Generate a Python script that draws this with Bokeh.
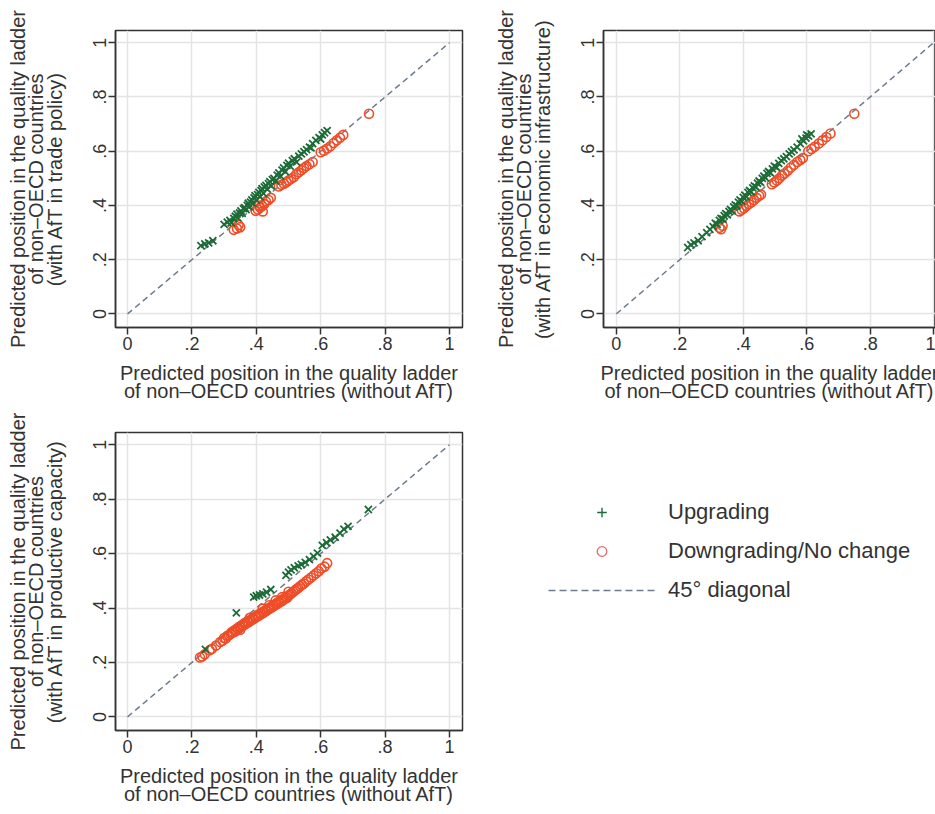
from bokeh.plotting import figure
from bokeh.layouts import row, column
from bokeh.models import FixedTicker, Legend, LegendItem
from bokeh.embed import file_html
from bokeh.resources import INLINE

# ---------------- data ----------------
ticks = [0, 0.2, 0.4, 0.6, 0.8, 1.0]
tick_labels = ["0", ".2", ".4", ".6", ".8", "1"]
diag_x = [0, 1]
diag_y = [0, 1]

x_title = "Predicted position in the quality ladder\nof non\u2013OECD countries (without AfT)"
y_title_base = "Predicted position in the quality ladder\nof non\u2013OECD countries\n"
y_suffix = ["(with AfT in trade policy)",
            "(with AfT in economic infrastructure)",
            "(with AfT in productive capacity)"]

legend_labels = ["Upgrading", "Downgrading/No change", "45\u00b0 diagonal"]

# Panel 1: trade policy
p1_up_x = [0.228, 0.240, 0.252, 0.265, 0.300, 0.310, 0.318, 0.322, 0.330, 0.335, 0.340, 0.342, 0.348, 0.352,
           0.356, 0.360, 0.364, 0.368, 0.372, 0.375, 0.378, 0.382, 0.386, 0.390, 0.393, 0.396, 0.400, 0.404,
           0.408, 0.412, 0.415, 0.418, 0.422, 0.425, 0.430, 0.434, 0.438, 0.442, 0.446, 0.450, 0.455, 0.460,
           0.465, 0.470, 0.475, 0.480, 0.485, 0.490, 0.495, 0.500, 0.505, 0.512, 0.518, 0.525, 0.532, 0.540,
           0.548, 0.556, 0.565, 0.575, 0.585, 0.595, 0.605, 0.612, 0.620, 0.600, 0.570]
p1_up_y = [0.252, 0.258, 0.262, 0.270, 0.330, 0.338, 0.345, 0.336, 0.352, 0.360, 0.368, 0.355, 0.372, 0.380,
           0.371, 0.388, 0.392, 0.385, 0.400, 0.408, 0.395, 0.412, 0.420, 0.408, 0.428, 0.436, 0.420, 0.440,
           0.448, 0.432, 0.455, 0.462, 0.445, 0.468, 0.474, 0.460, 0.480, 0.488, 0.472, 0.495, 0.500, 0.490,
           0.512, 0.520, 0.508, 0.530, 0.538, 0.525, 0.548, 0.556, 0.545, 0.565, 0.572, 0.560, 0.582, 0.590,
           0.598, 0.606, 0.615, 0.628, 0.640, 0.650, 0.660, 0.668, 0.676, 0.645, 0.612]
p1_dn_x = [0.330, 0.340, 0.350, 0.345, 0.398, 0.405, 0.412, 0.408, 0.418, 0.425, 0.430, 0.438, 0.445, 0.420,
           0.470, 0.478, 0.486, 0.494, 0.500, 0.508, 0.516, 0.524, 0.532, 0.540, 0.548, 0.556, 0.565, 0.575,
           0.600, 0.610, 0.620, 0.630, 0.640, 0.650, 0.660, 0.670, 0.750]
p1_dn_y = [0.310, 0.315, 0.320, 0.328, 0.380, 0.385, 0.392, 0.400, 0.398, 0.405, 0.415, 0.420, 0.428, 0.378,
           0.470, 0.476, 0.480, 0.486, 0.492, 0.498, 0.504, 0.515, 0.522, 0.530, 0.538, 0.545, 0.552, 0.560,
           0.596, 0.602, 0.610, 0.618, 0.630, 0.640, 0.650, 0.660, 0.738]

# Panel 2: economic infrastructure
p2_up_x = [0.225, 0.235, 0.245, 0.258, 0.270, 0.285, 0.295, 0.305, 0.312, 0.318, 0.325, 0.330, 0.336, 0.340,
           0.345, 0.350, 0.355, 0.360, 0.365, 0.370, 0.375, 0.380, 0.385, 0.390, 0.395, 0.400, 0.405, 0.410,
           0.415, 0.420, 0.425, 0.430, 0.435, 0.440, 0.445, 0.450, 0.455, 0.460, 0.465, 0.470, 0.475, 0.480,
           0.486, 0.492, 0.498, 0.505, 0.512, 0.520, 0.528, 0.536, 0.545, 0.552, 0.560, 0.570, 0.580, 0.590,
           0.598, 0.606, 0.614, 0.585, 0.600]
p2_up_y = [0.245, 0.255, 0.262, 0.270, 0.285, 0.300, 0.312, 0.322, 0.335, 0.330, 0.345, 0.352, 0.350, 0.362,
           0.370, 0.365, 0.378, 0.385, 0.380, 0.395, 0.402, 0.398, 0.412, 0.420, 0.415, 0.430, 0.438, 0.432,
           0.448, 0.455, 0.450, 0.465, 0.472, 0.468, 0.482, 0.490, 0.485, 0.500, 0.508, 0.502, 0.518, 0.525,
           0.520, 0.535, 0.545, 0.540, 0.555, 0.565, 0.572, 0.580, 0.590, 0.598, 0.605, 0.615, 0.628, 0.638,
           0.648, 0.656, 0.664, 0.645, 0.660]
p2_dn_x = [0.325, 0.335, 0.330, 0.388, 0.395, 0.402, 0.410, 0.418, 0.426, 0.434, 0.442, 0.450, 0.456,
           0.490, 0.498, 0.506, 0.514, 0.522, 0.530, 0.540, 0.550, 0.560, 0.570, 0.580, 0.588,
           0.605, 0.615, 0.625, 0.638, 0.650, 0.662, 0.675, 0.750]
p2_dn_y = [0.318, 0.325, 0.312, 0.378, 0.384, 0.390, 0.398, 0.405, 0.412, 0.420, 0.428, 0.436, 0.440,
           0.478, 0.485, 0.492, 0.500, 0.510, 0.518, 0.528, 0.540, 0.550, 0.560, 0.568, 0.575,
           0.600, 0.608, 0.616, 0.628, 0.640, 0.652, 0.665, 0.738]

# Panel 3: productive capacity
p3_up_x = [0.242, 0.338, 0.392, 0.400, 0.410, 0.420, 0.432, 0.445, 0.492, 0.500, 0.508, 0.518, 0.530,
           0.540, 0.552, 0.565, 0.578, 0.590, 0.605, 0.618, 0.630, 0.645, 0.660, 0.672, 0.685, 0.748]
p3_up_y = [0.248, 0.382, 0.440, 0.445, 0.448, 0.452, 0.458, 0.468, 0.520, 0.532, 0.540, 0.548, 0.555,
           0.560, 0.568, 0.578, 0.590, 0.602, 0.630, 0.640, 0.650, 0.660, 0.675, 0.690, 0.700, 0.762]
p3_dn_x = [0.225, 0.232, 0.240, 0.255, 0.262, 0.275, 0.288, 0.295, 0.300, 0.305, 0.310, 0.315, 0.320,
           0.324, 0.328, 0.332, 0.336, 0.340, 0.344, 0.348, 0.352, 0.356, 0.360, 0.364, 0.368, 0.372,
           0.376, 0.380, 0.384, 0.388, 0.392, 0.396, 0.400, 0.404, 0.408, 0.412, 0.416, 0.420, 0.424,
           0.428, 0.432, 0.436, 0.440, 0.444, 0.448, 0.452, 0.456, 0.460, 0.464, 0.468, 0.472, 0.476,
           0.480, 0.484, 0.488, 0.492, 0.496, 0.500, 0.505, 0.510, 0.515, 0.520, 0.525, 0.530, 0.536,
           0.542, 0.548, 0.555, 0.562, 0.570, 0.578, 0.586, 0.594, 0.602, 0.612, 0.620, 0.380, 0.420,
           0.460, 0.500, 0.350, 0.440, 0.480]
p3_dn_y = [0.218, 0.222, 0.230, 0.245, 0.250, 0.262, 0.275, 0.280, 0.290, 0.288, 0.298, 0.300, 0.305,
           0.312, 0.310, 0.318, 0.315, 0.325, 0.322, 0.332, 0.330, 0.338, 0.336, 0.345, 0.342, 0.350,
           0.348, 0.356, 0.354, 0.362, 0.360, 0.368, 0.366, 0.374, 0.372, 0.380, 0.378, 0.386, 0.384,
           0.392, 0.390, 0.398, 0.396, 0.404, 0.402, 0.410, 0.408, 0.416, 0.414, 0.422, 0.420, 0.428,
           0.426, 0.434, 0.432, 0.440, 0.438, 0.446, 0.450, 0.455, 0.460, 0.464, 0.470, 0.474, 0.480,
           0.486, 0.490, 0.498, 0.505, 0.512, 0.520, 0.528, 0.535, 0.545, 0.552, 0.565, 0.364, 0.398,
           0.428, 0.460, 0.320, 0.410, 0.440]

# ---------------- style ----------------
FONT = "Liberation Sans"
TXT = "#333333"
GREEN = "#1d6b37"
RED = "#ee4d28"
DIAG = "#6d7c8c"
GRID = "#e4e4e4"
FRAME = "#333333"
YR = (-0.05, 1.045)


def panel(ux, uy, dx, dy, ytitle, width, height, xr, bl, br, bt, bb):
    p = figure(width=width, height=height, x_range=xr, y_range=YR,
               output_backend="svg", toolbar_location=None,
               min_border_left=bl, min_border_right=br, min_border_top=bt, min_border_bottom=bb,
               background_fill_color="white", border_fill_color="white")
    p.outline_line_color = FRAME
    p.outline_line_width = 1.5
    for ax in (p.xaxis[0], p.yaxis[0]):
        ax.ticker = FixedTicker(ticks=ticks)
        ax.major_label_overrides = {t: l for t, l in zip(ticks, tick_labels)}
        ax.minor_tick_line_color = None
        ax.major_tick_in = 0
        ax.major_tick_out = 7
        ax.major_tick_line_color = FRAME
        ax.major_tick_line_width = 1.5
        ax.axis_line_color = FRAME
        ax.axis_line_width = 1.5
        ax.major_label_text_font = FONT
        ax.major_label_text_font_size = "18px"
        ax.major_label_text_color = TXT
        ax.axis_label_text_font = FONT
        ax.axis_label_text_font_size = "20px"
        ax.axis_label_text_font_style = "normal"
        ax.axis_label_text_color = TXT
        ax.major_label_standoff = 2
    p.xaxis.axis_label = x_title
    p.xaxis.axis_label_standoff = 9
    p.xaxis.axis_label_text_line_height = 0.84
    p.yaxis.axis_label = ytitle
    p.yaxis.axis_label_standoff = 25
    p.yaxis.axis_label_text_line_height = 0.84
    p.yaxis.major_label_orientation = "vertical"
    p.grid.grid_line_color = GRID
    p.grid.grid_line_width = 1.5
    p.line(diag_x, diag_y, line_color=DIAG, line_width=1.5, line_dash="6 4")
    p.scatter(dx, dy, marker="circle", size=9, fill_color=None, line_color=RED, line_width=1.6)
    p.scatter(ux, uy, marker="x", size=10, line_color=GREEN, line_width=1.8)
    return p


XR_A = (-0.0373, 1.0404)
XR_B = (-0.0404, 1.006)

f1 = panel(p1_up_x, p1_up_y, p1_dn_x, p1_dn_y, y_title_base + y_suffix[0],
           491, 404, XR_A, 115, 29, 30, 76)
f2 = panel(p2_up_x, p2_up_y, p2_dn_x, p2_dn_y, y_title_base + y_suffix[1],
           444, 404, XR_B, 107, 0, 30, 76)
f3 = panel(p3_up_x, p3_up_y, p3_dn_x, p3_dn_y, y_title_base + y_suffix[2],
           491, 410, XR_A, 115, 29, 28, 84)

# key panel: its renderers use the panel-3 data but lie outside this panel's ranges,
# so only the legend entries are visible
f4 = figure(width=444, height=410, x_axis_type=None, y_axis_type=None,
            output_backend="svg", toolbar_location=None,
            min_border_left=0, min_border_right=0, min_border_top=28, min_border_bottom=84,
            x_range=(5, 6), y_range=(5, 6))
f4.outline_line_color = None
f4.grid.visible = False
k_up = f4.scatter(p3_up_x, p3_up_y, marker="cross", size=12, line_color=GREEN, line_width=1.4)
k_dn = f4.scatter(p3_dn_x, p3_dn_y, marker="circle", size=8, fill_color=None,
                  line_color="#e06a6a", line_width=1.3)
k_dg = f4.line(diag_x, diag_y, line_color=DIAG, line_width=1.5, line_dash="7 4")
leg = Legend(items=[LegendItem(label=legend_labels[0], renderers=[k_up]),
                    LegendItem(label=legend_labels[1], renderers=[k_dn]),
                    LegendItem(label=legend_labels[2], renderers=[k_dg])],
             location=(57, 127), orientation="vertical",
             glyph_width=107, glyph_height=24, label_height=26, spacing=13,
             label_standoff=13, padding=0, margin=0,
             border_line_color=None, background_fill_alpha=0,
             label_text_font=FONT, label_text_font_size="22px", label_text_color=TXT)
f4.add_layout(leg)

layout = column(row(f1, f2), row(f3, f4))

open("out.html", "w").write(file_html(layout, INLINE))
